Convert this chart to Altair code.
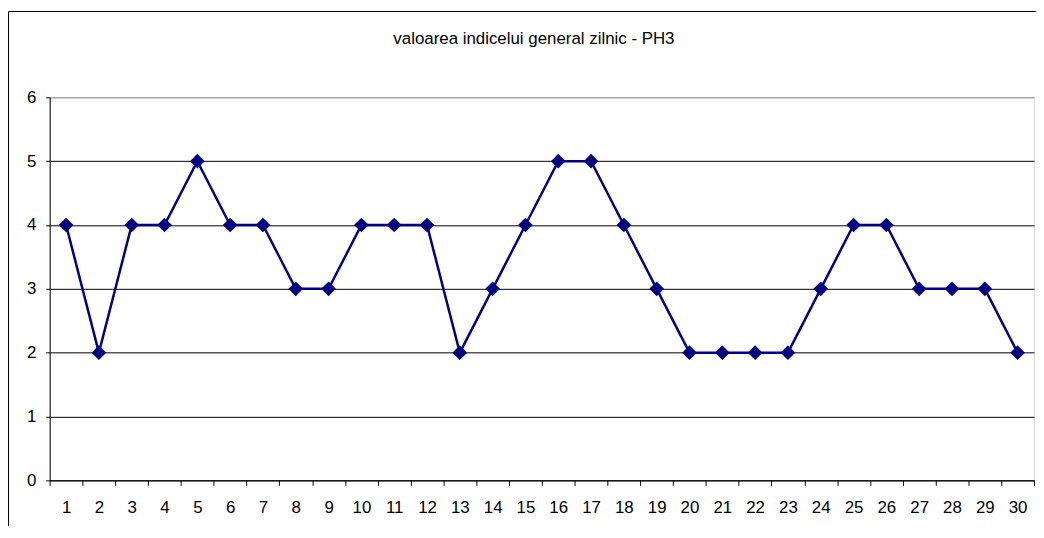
import altair as alt
import pandas as pd

days = list(range(1, 31))
values = [4, 2, 4, 4, 5, 4, 4, 3, 3, 4, 4, 4, 2, 3, 4, 5, 5, 4, 3, 2, 2, 2, 2, 3, 4, 4, 3, 3, 3, 2]
title_text = "valoarea indicelui general zilnic - PH3"

df = pd.DataFrame({"zi": days, "valoare": values})

W, H = 992, 386
FONT = "Liberation Sans"

x_enc = alt.X(
    "zi:O",
    scale=alt.Scale(type="band", paddingInner=0, paddingOuter=0),
    bandPosition=0.5,
    axis=alt.Axis(
        title=None, labelAngle=0, tickBand="extent", tickSize=5, tickColor="black",
        domainColor="black", labelFontSize=17, labelFont=FONT, labelColor="black",
        labelPadding=14, grid=False,
    ),
)
y_enc = alt.Y(
    "valoare:Q",
    scale=alt.Scale(domain=[0, 6]),
    axis=alt.Axis(
        title=None, values=[0, 1, 2, 3, 4, 5, 6], tickSize=4, tickColor="black",
        domainColor="black", labelFontSize=17, labelFont=FONT, labelColor="black",
        labelPadding=10, grid=True, gridWidth=1,
        gridColor={"condition": {"test": "datum.value === 6", "value": "#808080"}, "value": "black"},
    ),
)

frame = alt.Chart(pd.DataFrame({"a": [0]})).mark_rect(
    fill=None, stroke="black", strokeWidth=1
).encode(
    x=alt.value(-41.5), x2=alt.value(W + 20), y=alt.value(-86.5), y2=alt.value(H + 80)
)

title = alt.Chart(pd.DataFrame({"t": [title_text]})).mark_text(
    font=FONT, fontSize=17, color="black", align="center", baseline="middle"
).encode(text="t:N", x=alt.value(W / 2 - 8), y=alt.value(-59))

line = alt.Chart(df).mark_line(color="#000080", strokeWidth=2.5).encode(x=x_enc, y=y_enc)
pts = alt.Chart(df).mark_point(
    shape="diamond", filled=True, color="#000080", size=220, opacity=1
).encode(x=x_enc, y=y_enc)

chart = alt.layer(line, pts, frame, title).properties(
    width=W, height=H,
    autosize=alt.AutoSizeParams(type="none"),
    padding={"left": 42, "top": 88, "right": 2, "bottom": 44},
).configure_view(stroke="#808080", strokeWidth=1.5).configure(background="white")

chart.save("out.html", embed_options={"renderer": "svg", "actions": False})
